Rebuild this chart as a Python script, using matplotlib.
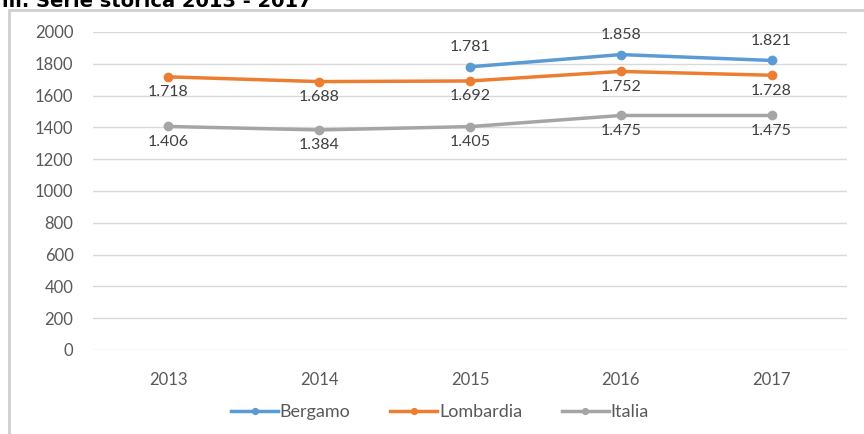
import numpy as np
import matplotlib.pyplot as plt
from matplotlib.patches import Rectangle

years = ['2013', '2014', '2015', '2016', '2017']
bergamo = [np.nan, np.nan, 1781, 1858, 1821]
lombardia = [1718, 1688, 1692, 1752, 1728]
italia = [1406, 1384, 1405, 1475, 1475]
yticks = [0, 200, 400, 600, 800, 1000, 1200, 1400, 1600, 1800, 2000]

plt.rcParams['font.family'] = ['Lato', 'DejaVu Sans']

W, H = 864, 434
fig = plt.figure(figsize=(W / 100, H / 100), dpi=100)
# frame of the pasted chart
fig.patches.append(Rectangle((9 / W, -0.05), 1.0, 1 - 10 / H + 0.05,
                             transform=fig.transFigure, fill=False,
                             edgecolor='#cfcfcf', linewidth=2))
# caption above the chart, cut off at the top as in the original
fig.text(2 / W, 1 - 7 / H, 'iii. Serie storica 2013 - 2017', fontsize=14,
         fontweight='bold', color='black', va='baseline', ha='left',
         family='DejaVu Sans')

ax = fig.add_axes([93 / W, 1 - 350 / H, (847 - 93) / W, (350 - 32) / H])
x = np.arange(len(years))

ax.plot(x, bergamo, color='#5B9BD5', lw=2.5, marker='o', ms=6, label='Bergamo')
ax.plot(x, lombardia, color='#ED7D31', lw=2.5, marker='o', ms=6, label='Lombardia')
ax.plot(x, italia, color='#A5A5A5', lw=2.5, marker='o', ms=6, label='Italia')

def fmt(v):
    return '{:,}'.format(int(v)).replace(',', '.')

for xi, v in zip(x, bergamo):
    if not np.isnan(v):
        ax.annotate(fmt(v), (xi, v), xytext=(0, 9), textcoords='offset points',
                    ha='center', va='bottom', fontsize=11.5, color='#404040')
for xi, v in zip(x, lombardia):
    ax.annotate(fmt(v), (xi, v), xytext=(0, -6), textcoords='offset points',
                ha='center', va='top', fontsize=11.5, color='#404040')
for xi, v in zip(x, italia):
    ax.annotate(fmt(v), (xi, v), xytext=(0, -6), textcoords='offset points',
                ha='center', va='top', fontsize=11.5, color='#404040')

ax.set_xlim(-0.5, len(years) - 0.5)
ax.set_ylim(0, 2000)
ax.set_yticks(yticks)
ax.set_xticks(x)
ax.set_xticklabels(years)
ax.grid(axis='y', color='#d9d9d9', lw=1)
ax.set_axisbelow(True)
for s in ax.spines.values():
    s.set_visible(False)
ax.tick_params(length=0, labelsize=12, colors='#595959', pad=14)
ax.tick_params(axis='x', pad=16)

ax.legend(loc='center', bbox_to_anchor=(440 / W, 1 - 412 / H),
          bbox_transform=fig.transFigure, ncol=3, frameon=False,
          fontsize=13, labelcolor='#595959', handlelength=2.6,
          handletextpad=0.1, columnspacing=2.2, markerscale=0.7)

fig.savefig('out.png', dpi=100)
